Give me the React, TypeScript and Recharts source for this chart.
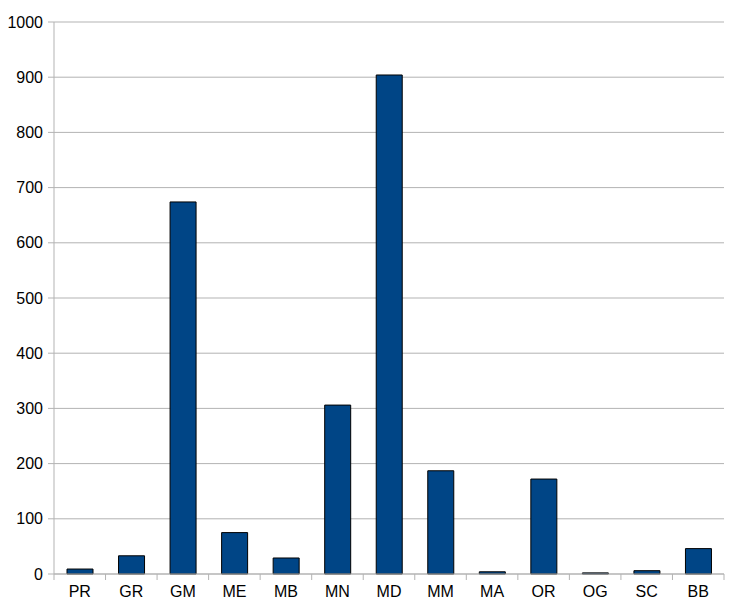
import { Bar, BarChart, CartesianGrid, XAxis, YAxis } from "recharts";

const categories = ["PR", "GR", "GM", "ME", "MB", "MN", "MD", "MM", "MA", "OR", "OG", "SC", "BB"];
const values = [9, 33, 674, 75, 29, 306, 904, 187, 4, 172, 2, 6, 46];
const yTicks = [0, 100, 200, 300, 400, 500, 600, 700, 800, 900, 1000];

const data = categories.map((name, i) => ({ name, value: values[i] }));

const grey = "#b3b3b3";
const fontFamily = "'Liberation Sans', Arial, sans-serif";
const font = { fontFamily, fontSize: 16, fill: "#000" };

const MARGIN = 12;

// category label plus a tick mark on the band boundaries
function CatTick(props: any) {
  const { x, y, payload, index, visibleTicksCount } = props;
  const half = payload.offset ?? 0;
  const base = y - MARGIN;
  const isLast = index === visibleTicksCount - 1;
  return (
    <g>
      <line x1={x - half} x2={x - half} y1={base} y2={base + 6} stroke={grey} />
      {isLast && <line x1={x + half} x2={x + half} y1={base} y2={base + 6} stroke={grey} />}
      <text x={x} y={y} dy="0.71em" textAnchor="middle" fontFamily={fontFamily} fontSize={16} fill="#000">
        {payload.value}
      </text>
    </g>
  );
}

export default function App() {
  return (
    <div style={{ position: "absolute", left: 0, top: 0, background: "#fff" }}>
      <BarChart width={736} height={610} data={data} margin={{ top: 22, right: 12, left: 0, bottom: 0 }}>
        <CartesianGrid vertical={false} stroke={grey} />
        <XAxis
          dataKey="name"
          height={36}
          tickLine={false}
          tickSize={0}
          tickMargin={MARGIN}
          axisLine={{ stroke: grey }}
          tick={<CatTick />}
          interval={0}
        />
        <YAxis
          domain={[0, 1000]}
          ticks={yTicks}
          width={54}
          tickSize={6}
          tickMargin={5}
          tickLine={{ stroke: grey }}
          axisLine={{ stroke: grey }}
          tick={font}
          interval={0}
        />
        <YAxis
          yAxisId="right"
          orientation="right"
          domain={[0, 1000]}
          width={0}
          tick={false}
          tickLine={false}
          axisLine={{ stroke: grey }}
        />
        <Bar
          dataKey="value"
          barSize={26}
          fill="#004586"
          stroke="#000"
          strokeWidth={1}
          isAnimationActive={false}
        />
      </BarChart>
    </div>
  );
}
